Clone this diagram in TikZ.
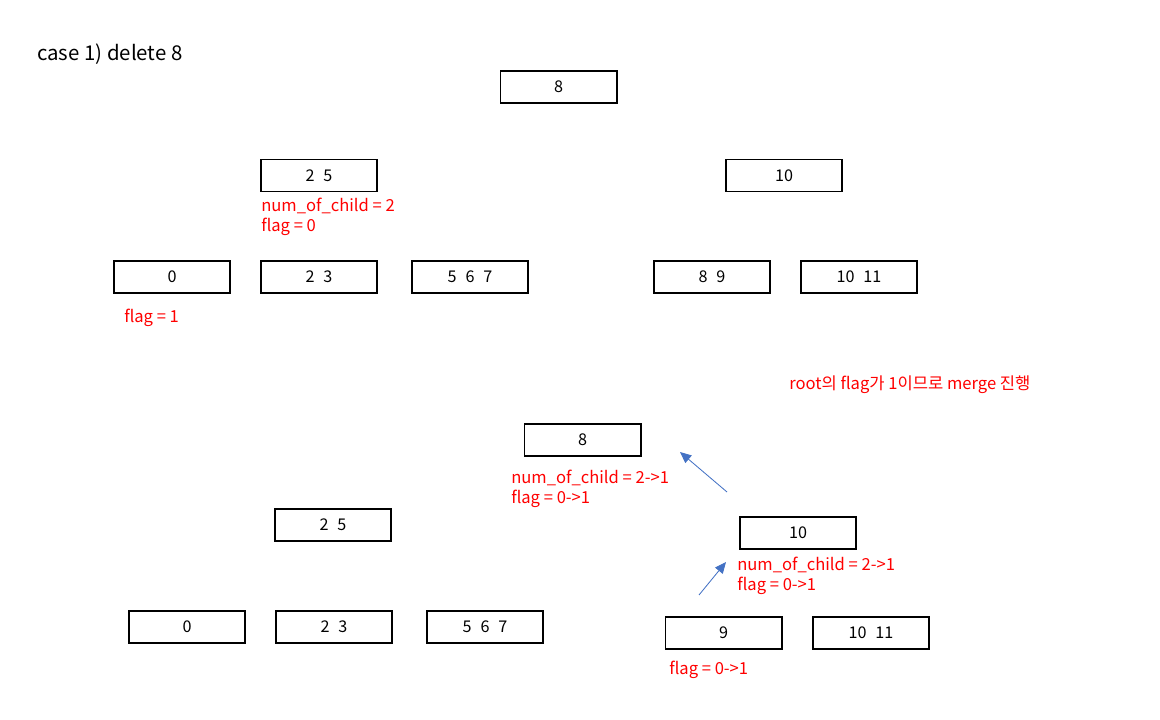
\documentclass[tikz,border=0pt]{standalone}
\usepackage{fontspec}
\setmainfont{Noto Sans CJK KR}
\usepackage{xcolor}
\usetikzlibrary{arrows.meta, positioning}
\definecolor{notered}{RGB}{255,0,0}
\definecolor{arrowblue}{RGB}{68,114,196}
\newcommand{\gap}{\hspace{0.55em}}
\tikzstyle{keybox} = [rectangle, draw=black, line width=1.4pt, minimum width=2.9cm, minimum height=0.8cm, inner sep=0pt, text centered, font=\fontsize{11.5}{13}\selectfont]
\tikzstyle{note} = [anchor=west, inner sep=0pt, align=left, text=notered, font=\fontsize{11.8}{14.2}\selectfont]
\tikzstyle{arrow} = [draw=arrowblue, line width=0.6pt, -{Triangle[length=8pt, width=7pt]}]

\begin{document}
\begin{tikzpicture}[x=0.025cm, y=-0.025cm]
\useasboundingbox (0,0) rectangle (1160,720);
    % Title
    \node (title) [anchor=west, inner sep=0pt, font=\fontsize{14.5}{16}\selectfont] at (37,54) {case 1)\ delete 8};

    % Before: tree
    \node (root) [keybox] at (558.5,87) {8};
    \node (left) [keybox] at (319,175.5) {2\gap 5};
    \node (right) [keybox] at (784,175.5) {10};
    \node (leafa) [keybox] at (172,277) {0};
    \node (leafb) [keybox] at (319,277) {2\gap 3};
    \node (leafc) [keybox] at (470,277) {5\gap 6\gap 7};
    \node (leafd) [keybox] at (712,277) {8\gap 9};
    \node (leafe) [keybox] at (859,277) {10\gap 11};

    \node (leftinfo) [note] at (261,217) {num\_of\_child\ =\ 2\\flag\ =\ 0};
    \node (leafainfo) [note] at (124,318) {flag\ =\ 1};

    \node (merge) [note] at (789,385) {root의 flag가 1이므로 merge 진행};

    % After: tree
    \node (nroot) [keybox] at (582.5,440) {8};
    \node (nleft) [keybox] at (333,525) {2\gap 5};
    \node (nright) [keybox] at (798,533) {10};
    \node (nleafa) [keybox] at (187,627) {0};
    \node (nleafb) [keybox] at (334,627) {2\gap 3};
    \node (nleafc) [keybox] at (485,627) {5\gap 6\gap 7};
    \node (nleafd) [keybox] at (723.5,633) {9};
    \node (nleafe) [keybox] at (871,633) {10\gap 11};

    \node (nrootinfo) [note] at (511,489) {num\_of\_child\ =\ 2->1\\flag\ =\ 0->1};
    \node (nrightinfo) [note] at (737,576) {num\_of\_child\ =\ 2->1\\flag\ =\ 0->1};
    \node (nleafdinfo) [note] at (669,670) {flag\ =\ 0->1};

    % Arrows
    \coordinate (upa) at (727,492);
    \coordinate (upahead) at (680,452);
    \coordinate (upb) at (699,595);
    \coordinate (upbhead) at (726,562);
    \draw [arrow] (upa) -- (upahead);
    \draw [arrow] (upb) -- (upbhead);
\end{tikzpicture}
\end{document}
